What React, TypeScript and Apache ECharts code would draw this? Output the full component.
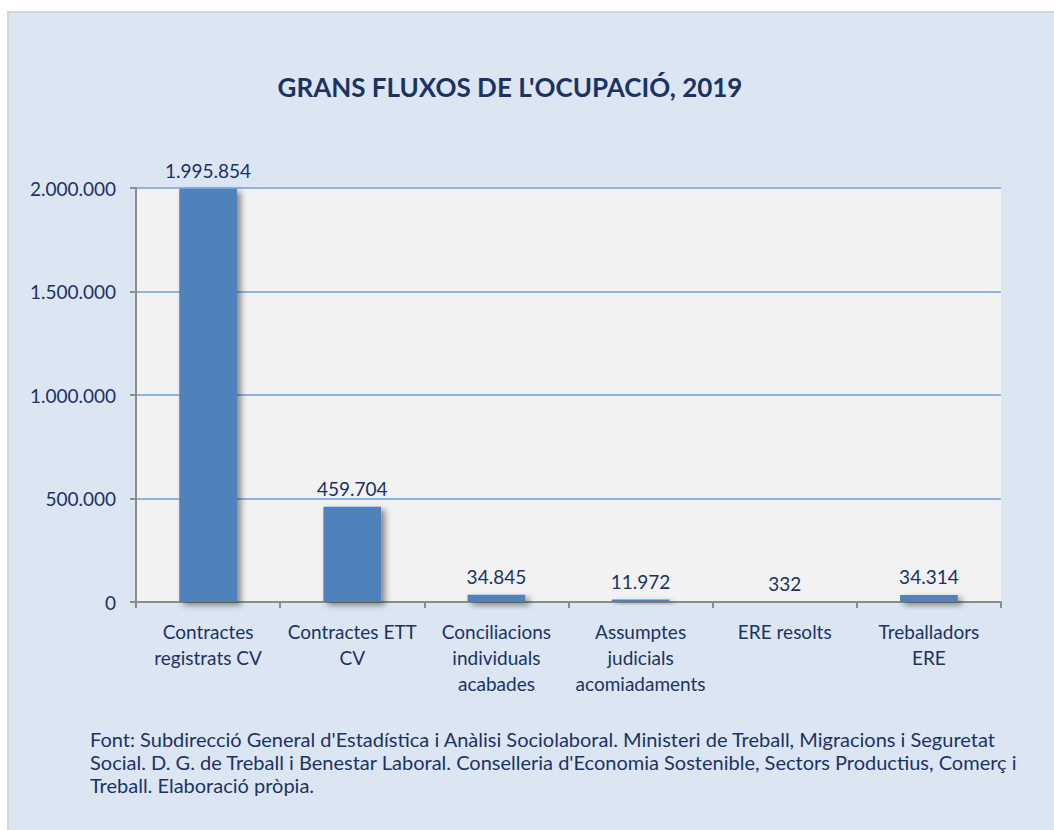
import React, { useEffect, useRef } from "react";
import * as echarts from "echarts";

const categories = [
  "Contractes\nregistrats CV",
  "Contractes ETT\nCV",
  "Conciliacions\nindividuals\nacabades",
  "Assumptes\njudicials\nacomiadaments",
  "ERE resolts",
  "Treballadors\nERE",
];
const values = [1995854, 459704, 34845, 11972, 332, 34314];
const yTicks = { min: 0, max: 2000000, interval: 500000 };
const titleText = "GRANS FLUXOS DE L'OCUPACIÓ, 2019";
const sourceLines = [
  "Font: Subdirecció General d'Estadística i Anàlisi Sociolaboral. Ministeri de Treball, Migracions i Seguretat",
  "Social. D. G. de Treball i Benestar Laboral. Conselleria d'Economia Sostenible, Sectors Productius, Comerç i",
  "Treball. Elaboració pròpia.",
];

const fmt = (v: number) =>
  String(Math.round(v)).replace(/\B(?=(\d{3})+(?!\d))/g, ".");

const FONT = "Lato";
const TXT = "#1b3364";

export default function App() {
  const ref = useRef<HTMLDivElement>(null);
  useEffect(() => {
    if (!ref.current) return;
    const chart = echarts.init(ref.current, null, { renderer: "svg" });
    chart.setOption({
      animation: false,
      backgroundColor: "#ffffff",
      textStyle: { fontFamily: FONT },
      graphic: [
        {
          type: "rect",
          z: -10,
          shape: { x: 8, y: 12, width: 1060, height: 830 },
          style: { fill: "#dce6f2", stroke: "#d6d6d6", lineWidth: 2 },
        },
        {
          type: "text",
          left: 90,
          top: 727,
          style: {
            text: sourceLines.join("\n"),
            font: `20px ${FONT}`,
            fill: TXT,
            lineHeight: 23,
          },
        },
      ],
      title: {
        text: titleText,
        left: 505,
        top: 69,
        textAlign: "center",
        textStyle: { fontFamily: FONT, fontWeight: "bold", fontSize: 26, color: TXT },
      },
      grid: {
        left: 136,
        right: 53,
        top: 188,
        bottom: 228,
        show: true,
        backgroundColor: "#f2f2f2",
        borderWidth: 0,
      },
      xAxis: {
        type: "category",
        data: categories,
        boundaryGap: true,
        axisLine: { lineStyle: { color: "#8c8c8c", width: 2 } },
        axisTick: { show: true, alignWithLabel: false, length: 6, lineStyle: { color: "#8c8c8c", width: 2 } },
        axisLabel: {
          interval: 0,
          margin: 16,
          fontFamily: FONT,
          fontSize: 19,
          lineHeight: 26,
          color: TXT,
        },
      },
      yAxis: {
        type: "value",
        min: yTicks.min,
        max: yTicks.max,
        interval: yTicks.interval,
        axisLine: { show: true, lineStyle: { color: "#8c8c8c", width: 2 } },
        axisTick: { show: true, length: 6, lineStyle: { color: "#8c8c8c", width: 2 } },
        axisLabel: {
          margin: 20,
          fontFamily: FONT,
          fontSize: 19,
          color: TXT,
          formatter: (v: number) => fmt(v),
        },
        splitLine: { lineStyle: { color: "#8db4e2", width: 2 } },
      },
      series: [
        {
          type: "bar",
          data: values,
          barWidth: "40%",
          itemStyle: {
            color: "#4f81bd",
            shadowColor: "rgba(0,0,0,0.45)",
            shadowBlur: 6,
            shadowOffsetX: 4,
            shadowOffsetY: 3,
          },
          label: {
            show: true,
            position: "top",
            distance: 9,
            fontFamily: FONT,
            fontSize: 19,
            color: TXT,
            formatter: (p: any) => fmt(p.value),
          },
        },
      ],
    });
    return () => chart.dispose();
  }, []);
  return (
    <div
      ref={ref}
      style={{ position: "absolute", left: 0, top: 0, width: 1054, height: 830 }}
    />
  );
}
